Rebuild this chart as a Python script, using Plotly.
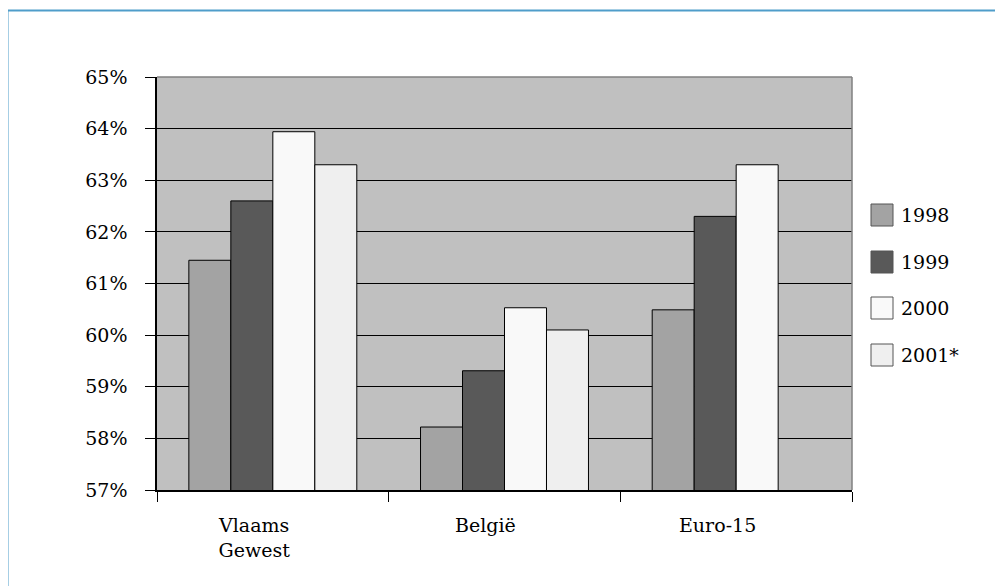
import plotly.graph_objects as go

categories = ["Vlaams<br>Gewest", "België", "Euro-15"]
years = ["1998", "1999", "2000", "2001*"]
v1998 = [61.45, 58.22, 60.49]
v1999 = [62.6, 59.31, 62.3]
v2000 = [63.94, 60.53, 63.3]
v2001 = [63.3, 60.1, None]
series = [v1998, v1999, v2000, v2001]
colors = ["#a3a3a3", "#595959", "#f9f9f9", "#efefef"]
yticks = [57, 58, 59, 60, 61, 62, 63, 64, 65]

FONT = "DejaVu Serif"
FS = 19
OFF = 8  # page body margin
W, H = 1003, 586
# plot area in page pixels: x 157..852, y 77..490
L = 157 - OFF
T = 77 - OFF
R = W - (852 - OFF)
B = H - (490 - OFF)
PW, PH = W - L - R, H - T - B


def px(x):
    return (x - OFF - L) / PW


def py(y):
    return (H - B - (y - OFF)) / PH


fig = go.Figure()
xs = [0, 1, 2]
for name, vals, col in zip(years, series, colors):
    fig.add_trace(go.Bar(
        x=xs, y=vals, name=name, marker_color=col,
        marker_line_color="#000000", marker_line_width=1,
        showlegend=False,
    ))

shapes = []
annotations = []
# outer light-blue frame
shapes.append(dict(type="rect", xref="paper", yref="paper",
                   x0=px(7.5), x1=px(1100), y0=py(700), y1=py(10.5),
                   line=dict(color="#4f9dca", width=2), layer="below"))
# plot area top & right border (gray)
shapes.append(dict(type="line", xref="paper", yref="paper", x0=0, x1=1, y0=1, y1=1,
                   line=dict(color="#808080", width=1.5)))
shapes.append(dict(type="line", xref="paper", yref="paper", x0=1, x1=1, y0=0, y1=1,
                   line=dict(color="#808080", width=1.5)))

# manual legend
leg_y = [215, 262, 308, 355]
for name, col, yy in zip(years, colors, leg_y):
    shapes.append(dict(type="rect", xref="paper", yref="paper",
                       x0=px(871), x1=px(893), y0=py(yy + 11), y1=py(yy - 11),
                       fillcolor=col, line=dict(color="#555555", width=1)))
    annotations.append(dict(x=px(899), y=py(yy), xref="paper", yref="paper",
                            xanchor="left", yanchor="middle", text=name, showarrow=False,
                            font=dict(family=FONT, size=FS, color="#000000")))

# category labels
for i, c in enumerate(categories):
    annotations.append(dict(x=i, y=0, xref="x", yref="paper", xanchor="center",
                            yanchor="top", yshift=-22, xshift=-19, text=c, showarrow=False,
                            font=dict(family=FONT, size=FS, color="#000000")))

fig.update_layout(
    width=W, height=H,
    margin=dict(l=L, r=R, t=T, b=B, pad=0),
    paper_bgcolor="#ffffff", plot_bgcolor="#c0c0c0",
    barmode="group", bargap=0.275, bargroupgap=0,
    font=dict(family=FONT, size=FS, color="#000000"),
    shapes=shapes, annotations=annotations,
    xaxis=dict(range=[-0.5, 2.5], showticklabels=False, showgrid=False, zeroline=False,
               showline=True, linecolor="#000000", linewidth=1.5,
               tickmode="array", tickvals=[-0.5, 0.5, 1.5, 2.5],
               ticks="outside", ticklen=10, tickcolor="#000000", tickwidth=1),
    yaxis=dict(range=[57, 65], tickmode="array", tickvals=yticks,
               ticktext=[f"{t}%" for t in yticks],
               showgrid=True, gridcolor="#000000", gridwidth=1, zeroline=False,
               showline=True, linecolor="#000000", linewidth=1.5,
               ticks="outside", ticklen=10, tickcolor="#000000", tickwidth=1,
               ticklabelstandoff=14),
    hovermode=False,
)

fig.write_html("out.html")
